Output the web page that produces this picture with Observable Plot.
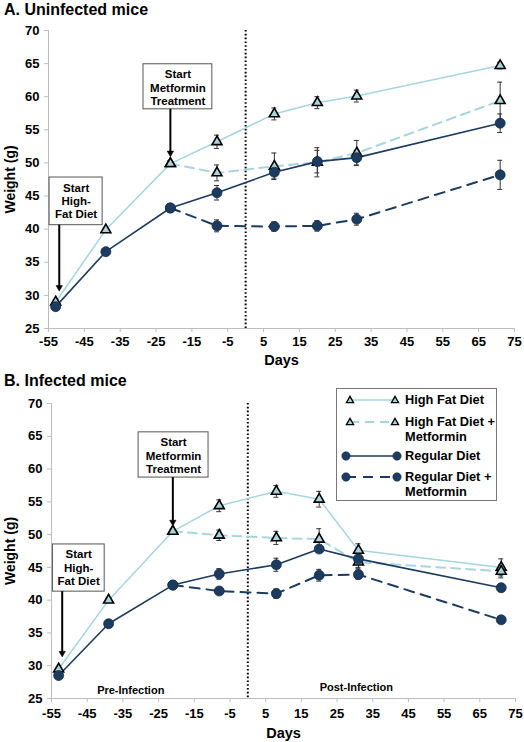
<!DOCTYPE html>
<html>
<head>
<meta charset="utf-8">
<script src="https://cdn.jsdelivr.net/npm/d3@7"></script>
<script src="https://cdn.jsdelivr.net/npm/@observablehq/plot@0.6"></script>
<style>
  body { margin: 0; background: #fff; font-family: "Liberation Sans", Arial, sans-serif; }
  .panel { position: relative; width: 524px; }
  .title { font-weight: bold; font-size: 16px; padding-left: 4px; box-sizing: border-box; }
  svg { display: block; }
</style>
</head>
<body>
<div id="panelA" class="panel"><div class="title" style="height:20px;line-height:19px;">A. Uninfected mice</div></div>
<div id="panelB" class="panel"><div class="title" style="height:22px;line-height:22px;">B. Infected mice</div></div>
<script>
// ---------- data ----------
const days = [-53, -39, -21, -8, 8, 20, 31, 71];
const xTicks = [-55, -45, -35, -25, -15, -5, 5, 15, 25, 35, 45, 55, 65, 75];
const yTicks = [25, 30, 35, 40, 45, 50, 55, 60, 65, 70];
const seriesNames = ["High Fat Diet", "High Fat Diet + Metformin", "Regular Diet", "Regular Diet + Metformin"];
const legendLines = [["High Fat Diet"], ["High Fat Diet +", "Metformin"], ["Regular Diet"], ["Regular Diet +", "Metformin"]];

// Panel A: uninfected mice (weight g, and error)
const aHFD   = [29.0, 39.9, 49.9, 53.2, 57.4, 59.1, 60.1, 64.7];
const aHFDe  = [0.3, 0.3, 0.4, 1.0, 0.9, 0.9, 0.9, 0.5];
const aHFDM  = [null, null, 49.9, 48.5, 49.5, 50.1, 51.5, 59.4];
const aHFDMe = [0, 0, 0.4, 1.2, 2.0, 2.2, 1.9, 2.8];
const aRD    = [28.3, 36.6, 43.2, 45.5, 48.6, 50.2, 50.8, 56.0];
const aRDe   = [0.3, 0.3, 0.6, 1.1, 1.0, 1.7, 1.1, 1.4];
const aRDM   = [null, null, 43.2, 40.5, 40.4, 40.5, 41.5, 48.2];
const aRDMe  = [0, 0, 0.6, 0.9, 0.7, 0.8, 0.9, 2.2];

// Panel B: infected mice
const bHFD   = [29.5, 40.0, 50.5, 54.4, 56.6, 55.4, 47.6, 45.0];
const bHFDe  = [0.3, 0.3, 0.4, 0.9, 0.9, 1.2, 1.0, 1.3];
const bHFDM  = [null, null, 50.5, 49.9, 49.5, 49.3, 45.8, 44.4];
const bHFDMe = [0, 0, 0.4, 0.8, 1.0, 1.6, 1.0, 1.0];
const bRD    = [28.5, 36.4, 42.3, 44.0, 45.4, 47.8, 46.3, 41.9];
const bRDe   = [0.3, 0.3, 0.4, 0.8, 1.0, 0.5, 1.3, 0.6];
const bRDM   = [null, null, 42.3, 41.4, 41.0, 43.8, 43.9, 37.0];
const bRDMe  = [0, 0, 0.4, 0.5, 0.7, 0.9, 0.7, 0.5];

// Annotations (in data units: day, weight)
const annA = [
  {text: "Start\nHigh-\nFat Diet", x1: -54.7, x2: -39.9, y1: 40.6, y2: 47.8, tx: -47.3, ty: 44.3, ax: -52, ay1: 40.6, ay2: 30.6},
  {text: "Start\nMetformin\nTreatment", x1: -28.5, x2: -9.3, y1: 58.1, y2: 64.9, tx: -18.9, ty: 61.4, ax: -21, ay1: 58.1, ay2: 50.9}
];
const annB = [
  {text: "Start\nHigh-\nFat Diet", x1: -54.6, x2: -40.1, y1: 41.3, y2: 48.5, tx: -47.4, ty: 45.0, ax: -52, ay1: 41.3, ay2: 31.3},
  {text: "Start\nMetformin\nTreatment", x1: -30.6, x2: -11.0, y1: 58.7, y2: 65.6, tx: -20.8, ty: 62.1, ax: -21, ay1: 58.7, ay2: 51.3}
];
const phaseB = [
  {text: "Pre-Infection", x: -32.8, y: 26.3},
  {text: "Post-Infection", x: 30.4, y: 26.7}
];

// ---------- styles ----------
const LB = "#a6d5dd", LBFILL = "#a9d6dc", NAVY = "#1d3b5e", NAVYDK = "#142f4d";
const FONT = '"Liberation Sans", Arial, sans-serif';
const seriesStyle = [
  {color: LB, width: 1.5, dash: undefined, symbol: "triangle"},
  {color: LB, width: 2, dash: "9,6", symbol: "triangle"},
  {color: NAVY, width: 1.6, dash: undefined, symbol: "circle"},
  {color: NAVY, width: 2, dash: "10,7", symbol: "circle"}
];

function makePanel(cfg) {
  const vals = cfg.values, errs = cfg.errors;
  const data = vals.flatMap((v, k) => days.map((d, i) => ({day: d, w: v[i], e: errs[k][i], k, name: seriesNames[k]})).filter(r => r.w != null));
  const withErr = data.filter(r => r.e > 0);
  const marks = [
    Plot.axisY({ticks: yTicks, tickSize: 4, tickPadding: 5, stroke: "#bdbdbd", fill: "black", fontSize: 13, fontWeight: "bold", tickFormat: d => String(d), label: null}),
    Plot.axisX({ticks: xTicks, tickSize: 4, tickPadding: cfg.xPad, stroke: "#bdbdbd", fill: "black", fontSize: 13, fontWeight: "bold", tickFormat: d => String(d), label: null}),
    Plot.ruleX([-55], {stroke: "#bdbdbd"}),
    Plot.ruleY([25], {stroke: "#bdbdbd"}),
    Plot.ruleX([0], {stroke: "black", strokeWidth: 2, strokeDasharray: "1.6,2.2"}),
    Plot.text(["Weight (g)"], {frameAnchor: "left", rotate: -90, dx: cfg.yLabelDx, textAnchor: "middle", lineAnchor: "middle", fontSize: 14, fontWeight: "bold", fill: "black"}),
    Plot.text(["Days"], {frameAnchor: "bottom", dy: cfg.xLabelDy, textAnchor: "middle", lineAnchor: "middle", fontSize: 14.5, fontWeight: "bold", fill: "black"}),
    // annotation boxes and arrows
    Plot.rect(cfg.ann, {x1: "x1", x2: "x2", y1: "y1", y2: "y2", fill: "white", stroke: "#555", strokeWidth: 1}),
    Plot.text(cfg.ann, {x: "tx", y: "ty", text: "text", fontSize: 11.5, fontWeight: "bold", lineHeight: 1.16, fill: "black"}),
    Plot.ruleX(cfg.ann, {x: "ax", y1: "ay1", y2: "ay2", stroke: "black", strokeWidth: 2, insetBottom: 4}),
    Plot.dot(cfg.ann, {x: "ax", y: "ay2", symbol: "triangle", rotate: 180, r: 2.4, fill: "black", stroke: "black", strokeWidth: 0.5, dy: -4})
  ];
  if (cfg.phases) {
    marks.push(Plot.text(cfg.phases, {x: "x", y: "y", text: "text", fontSize: 11, fontWeight: "bold", fill: "black"}));
  }
  seriesStyle.forEach((st, k) => {
    marks.push(Plot.line(data.filter(r => r.k === k), {x: "day", y: "w", stroke: st.color, strokeWidth: st.width, strokeDasharray: st.dash}));
  });
  marks.push(
    Plot.ruleX(withErr, {x: "day", y1: r => r.w - r.e, y2: r => r.w + r.e, stroke: "#333", strokeWidth: 1}),
    Plot.ruleY(withErr, {y: r => r.w + r.e, x1: r => r.day - 0.7, x2: r => r.day + 0.7, stroke: "#333", strokeWidth: 1}),
    Plot.ruleY(withErr, {y: r => r.w - r.e, x1: r => r.day - 0.7, x2: r => r.day + 0.7, stroke: "#333", strokeWidth: 1}),
    Plot.dot(data.filter(r => r.k < 2), {x: "day", y: "w", symbol: "triangle", r: 3.7, fill: LBFILL, stroke: "black", strokeWidth: 1.6}),
    Plot.dot(data.filter(r => r.k >= 2), {x: "day", y: "w", r: 5, fill: NAVY, stroke: NAVYDK, strokeWidth: 0.8})
  );
  return Plot.plot({
    width: 524,
    height: cfg.height,
    marginLeft: cfg.ml, marginRight: cfg.mr, marginTop: cfg.mt, marginBottom: cfg.mb,
    x: {domain: [-55, 75]},
    y: {domain: [25, 70]},
    style: {fontFamily: FONT, fontSize: "13px", color: "black", background: "white", overflow: "visible"},
    marks
  });
}

const chartA = makePanel({
  values: [aHFD, aHFDM, aRD, aRDM], errors: [aHFDe, aHFDMe, aRDe, aRDMe],
  ann: annA, height: 350, ml: 48, mr: 10, mt: 10, mb: 42, xPad: 4, yLabelDx: -38, xLabelDy: 32
});
document.getElementById("panelA").appendChild(chartA);

const chartB = makePanel({
  values: [bHFD, bHFDM, bRD, bRDM], errors: [bHFDe, bHFDMe, bRDe, bRDMe],
  ann: annB, phases: phaseB, height: 350, ml: 51, mr: 9, mt: 11, mb: 44, xPad: 6, yLabelDx: -41, xLabelDy: 35
});
const panelB = document.getElementById("panelB");
panelB.appendChild(chartB);

// ---------- legend (inside panel B) ----------
const lg = d3.select(panelB).append("svg")
  .attr("width", 162).attr("height", 115)
  .style("position", "absolute").style("left", "335px").style("top", "17px")
  .style("font-family", FONT).style("overflow", "visible");
lg.append("rect").attr("x", 1.5).attr("y", 1.5).attr("width", 160).attr("height", 112)
  .attr("fill", "white").attr("stroke", "#777").attr("stroke-width", 1);
const rowY = [[13], [35, 50], [69], [90, 105]];
seriesStyle.forEach((st, k) => {
  const y = rowY[k][0];
  const g = lg.append("g");
  const xa = st.symbol === "triangle" ? 15 : 11, xb = st.symbol === "triangle" ? 60 : 62;
  g.append("line").attr("x1", xa).attr("x2", xb).attr("y1", y).attr("y2", y)
    .attr("stroke", st.color).attr("stroke-width", st.width).attr("stroke-dasharray", st.dash || null);
  [xa, xb].forEach(x => {
    if (st.symbol === "triangle") {
      g.append("path").attr("d", d3.symbol(d3.symbolTriangle, 22)()).attr("transform", `translate(${x},${y + 0.5})`)
        .attr("fill", LBFILL).attr("stroke", "black").attr("stroke-width", 1.3);
    } else {
      g.append("circle").attr("cx", x).attr("cy", y).attr("r", 4.2).attr("fill", NAVY).attr("stroke", NAVYDK).attr("stroke-width", 0.6);
    }
  });
  legendLines[k].forEach((t, j) => {
    g.append("text").attr("x", 70).attr("y", rowY[k][j]).attr("dy", "0.35em")
      .attr("font-size", 12.8).attr("font-weight", "bold").attr("fill", "black").text(t);
  });
});
</script>
</body>
</html>
